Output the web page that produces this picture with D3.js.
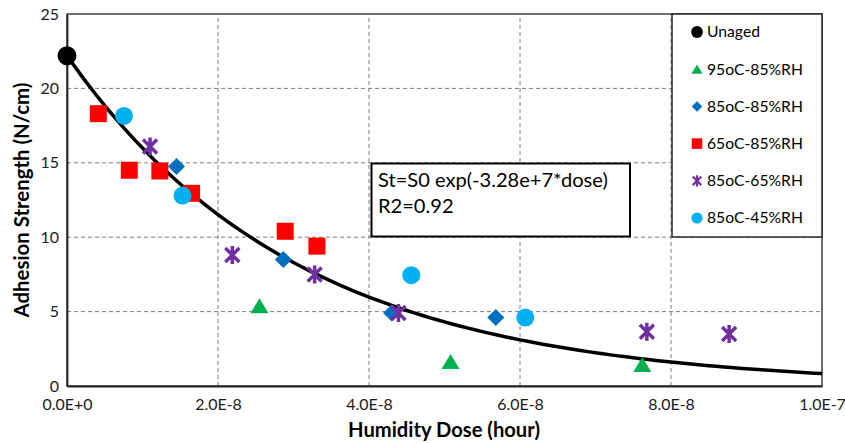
<!DOCTYPE html>
<html>
<head>
<meta charset="utf-8">
<script src="https://cdn.jsdelivr.net/npm/d3@7/dist/d3.min.js"></script>
<style>
  html, body { margin: 0; padding: 0; background: #fff; }
  svg { display: block; font-family: Lato, "Liberation Sans", sans-serif; }
</style>
</head>
<body>
<svg id="chart" width="845" height="443"></svg>
<script>
// Adhesion strength measurements vs. humidity dose, per aging condition
const unagedDose = [0];
const unagedStrength = [22.2];

const rh95c85Dose = [2.55e-8, 5.08e-8, 7.62e-8];
const rh95c85Strength = [5.4, 1.65, 1.45];

const rh85c85Dose = [1.45e-8, 2.865e-8, 4.30e-8, 5.68e-8];
const rh85c85Strength = [14.75, 8.5, 4.9, 4.6];

const rh65c85Dose = [0.415e-8, 0.825e-8, 1.23e-8, 1.65e-8, 2.89e-8, 3.31e-8];
const rh65c85Strength = [18.3, 14.5, 14.45, 12.95, 10.4, 9.4];

const rh85c65Dose = [1.10e-8, 2.19e-8, 3.28e-8, 4.39e-8, 7.68e-8, 8.77e-8];
const rh85c65Strength = [16.1, 8.8, 7.5, 4.9, 3.65, 3.5];

const rh85c45Dose = [0.755e-8, 1.53e-8, 4.56e-8, 6.07e-8];
const rh85c45Strength = [18.15, 12.8, 7.45, 4.6];

// Exponential fit: St = S0 exp(-k * dose)
const fitS0 = 22.2;
const fitK = 3.28e7;
const fitLabel = ["St=S0 exp(-3.28e+7*dose)", "R2=0.92"];

const xTicks = [0, 2e-8, 4e-8, 6e-8, 8e-8, 1e-7];
const xTickLabels = ["0.0E+0", "2.0E-8", "4.0E-8", "6.0E-8", "8.0E-8", "1.0E-7"];
const yTicks = [0, 5, 10, 15, 20, 25];

const seriesNames = ["Unaged", "95oC-85%RH", "85oC-85%RH", "65oC-85%RH", "85oC-65%RH", "85oC-45%RH"];

const series = [
  { name: seriesNames[0], dose: unagedDose, strength: unagedStrength, shape: "bigcircle", color: "#000000" },
  { name: seriesNames[1], dose: rh95c85Dose, strength: rh95c85Strength, shape: "triangle", color: "#00B050" },
  { name: seriesNames[2], dose: rh85c85Dose, strength: rh85c85Strength, shape: "diamond", color: "#0070C0" },
  { name: seriesNames[3], dose: rh65c85Dose, strength: rh65c85Strength, shape: "square", color: "#FF0000" },
  { name: seriesNames[4], dose: rh85c65Dose, strength: rh85c65Strength, shape: "star", color: "#7030A0" },
  { name: seriesNames[5], dose: rh85c45Dose, strength: rh85c45Strength, shape: "circle", color: "#00B0F0" }
];

const FONT = "Lato, 'Liberation Sans', sans-serif";

// Scale a text selection's font size so its first node spans the given width
function fitWidth(sel, width) {
  const node = sel.node();
  const fs = parseFloat(sel.attr("font-size"));
  const len = node.getComputedTextLength();
  const size = fs * width / len;
  sel.attr("font-size", size);
  return size;
}

const svg = d3.select("#chart");
const margin = { left: 67, top: 14, right: 23, bottom: 57 };
const W = 845, H = 443;
const x = d3.scaleLinear().domain([0, 1e-7]).range([margin.left, W - margin.right]);
const y = d3.scaleLinear().domain([0, 25]).range([H - margin.bottom, margin.top]);

// Dashed grid
const grid = svg.append("g");
grid.selectAll("line.h").data(yTicks.filter(t => t > 0 && t < 25)).join("line")
  .attr("x1", x(0)).attr("x2", x(1e-7))
  .attr("y1", d => y(d)).attr("y2", d => y(d))
  .attr("stroke", "#7f7f7f").attr("stroke-width", 1).attr("stroke-dasharray", "4,3");
grid.selectAll("line.v").data(xTicks.filter(t => t > 0 && t < 1e-7)).join("line")
  .attr("y1", y(0)).attr("y2", y(25))
  .attr("x1", d => x(d)).attr("x2", d => x(d))
  .attr("stroke", "#7f7f7f").attr("stroke-width", 1).attr("stroke-dasharray", "4,3");

// Plot frame
svg.append("rect")
  .attr("x", x(0)).attr("y", y(25))
  .attr("width", x(1e-7) - x(0)).attr("height", y(0) - y(25))
  .attr("fill", "none").attr("stroke", "#404040").attr("stroke-width", 1.5);

// Axes (labels only, no tick marks)
const xAxis = d3.axisBottom(x).tickValues(xTicks).tickSize(0).tickPadding(13)
  .tickFormat((d, i) => xTickLabels[i]);
const gx = svg.append("g").attr("transform", `translate(0,${y(0)})`).call(xAxis);
const yAxis = d3.axisLeft(y).tickValues(yTicks).tickSize(0).tickPadding(8);
const gy = svg.append("g").attr("transform", `translate(${x(0)},0)`).call(yAxis);
[gx, gy].forEach(g => {
  g.select(".domain").attr("stroke", "#262626").attr("stroke-width", 1.8);
  g.selectAll("text").attr("font-size", 16).attr("fill", "#1a1a1a").attr("font-family", FONT);
});
const tickSize = fitWidth(gx.select(".tick text"), 50);
gx.selectAll("text").attr("font-size", tickSize);
gy.selectAll("text").attr("font-size", tickSize);

// Fit curve
const curvePts = d3.range(0, 1.0001e-7, 1e-9).map(d => [d, fitS0 * Math.exp(-fitK * d)]);
svg.append("path")
  .datum(curvePts)
  .attr("d", d3.line().x(d => x(d[0])).y(d => y(d[1])))
  .attr("fill", "none").attr("stroke", "#000").attr("stroke-width", 3.5);

// Marker drawing
function drawMarker(g, shape, color, scale) {
  const s = scale || 1;
  if (shape === "bigcircle") {
    g.append("circle").attr("r", 9.5 * s).attr("fill", color);
  } else if (shape === "circle") {
    g.append("circle").attr("r", 9 * s).attr("fill", color);
  } else if (shape === "square") {
    const a = 17 * s;
    g.append("rect").attr("x", -a / 2).attr("y", -a / 2).attr("width", a).attr("height", a).attr("fill", color);
  } else if (shape === "diamond") {
    const r = 8.5 * s;
    g.append("path").attr("d", `M0,${-r}L${r},0L0,${r}L${-r},0Z`).attr("fill", color);
  } else if (shape === "triangle") {
    const w = 18 * s, h = 15 * s;
    g.append("path").attr("d", `M0,${-h / 2}L${w / 2},${h / 2}L${-w / 2},${h / 2}Z`).attr("fill", color);
  } else if (shape === "star") {
    const rx = 7 * s, ry = 7 * s, rv = 9 * s;
    g.append("path")
      .attr("d", `M${-rx},${-ry}L${rx},${ry}M${-rx},${ry}L${rx},${-ry}M0,${-rv}L0,${rv}`)
      .attr("stroke", color).attr("stroke-width", 3.5 * s).attr("fill", "none");
  }
}

// Data points
const pts = svg.append("g");
series.forEach(s => {
  s.dose.forEach((d, i) => {
    const g = pts.append("g").attr("transform", `translate(${x(d)},${y(s.strength[i])})`);
    drawMarker(g, s.shape, s.color, 1);
  });
});

// Fit annotation box
const ann = svg.append("g");
ann.append("rect").attr("x", 371.5).attr("y", 163.5).attr("width", 258.5).attr("height", 73)
  .attr("fill", "#fff").attr("stroke", "#000").attr("stroke-width", 2);
const annText = ann.selectAll("text").data(fitLabel).join("text")
  .attr("x", 378).attr("y", (d, i) => 187 + i * 26)
  .attr("font-size", 17).attr("fill", "#000").text(d => d);
const annSize = fitWidth(annText.filter((d, i) => i === 0), 230);
annText.attr("font-size", annSize);

// Legend
const leg = svg.append("g");
leg.append("rect").attr("x", 672).attr("y", 14).attr("width", 150).attr("height", 223)
  .attr("fill", "#fff").attr("stroke", "#262626").attr("stroke-width", 1.5);
const legTexts = [];
series.forEach((s, i) => {
  const cy = 32 + i * 37.2;
  const g = leg.append("g").attr("transform", `translate(697,${cy})`);
  drawMarker(g, s.shape, s.color, 0.62);
  legTexts.push(leg.append("text").attr("x", 707).attr("y", cy).attr("dy", "0.35em")
    .attr("font-size", 16).attr("fill", "#000").text(s.name));
});
const legSize = fitWidth(legTexts[2], 96);
legTexts.forEach(t => t.attr("font-size", legSize));

// Axis titles
const yTitle = svg.append("text")
  .attr("transform", `translate(29,${(y(0) + y(25)) / 2}) rotate(-90)`)
  .attr("text-anchor", "middle").attr("font-size", 18).attr("font-weight", "bold")
  .attr("fill", "#000").text("Adhesion Strength (N/cm)");
fitWidth(yTitle, 235);
const xTitle = svg.append("text")
  .attr("x", 444).attr("y", 437)
  .attr("text-anchor", "middle").attr("font-size", 18).attr("font-weight", "bold")
  .attr("fill", "#000").text("Humidity Dose (hour)");
fitWidth(xTitle, 192);
</script>
</body>
</html>
